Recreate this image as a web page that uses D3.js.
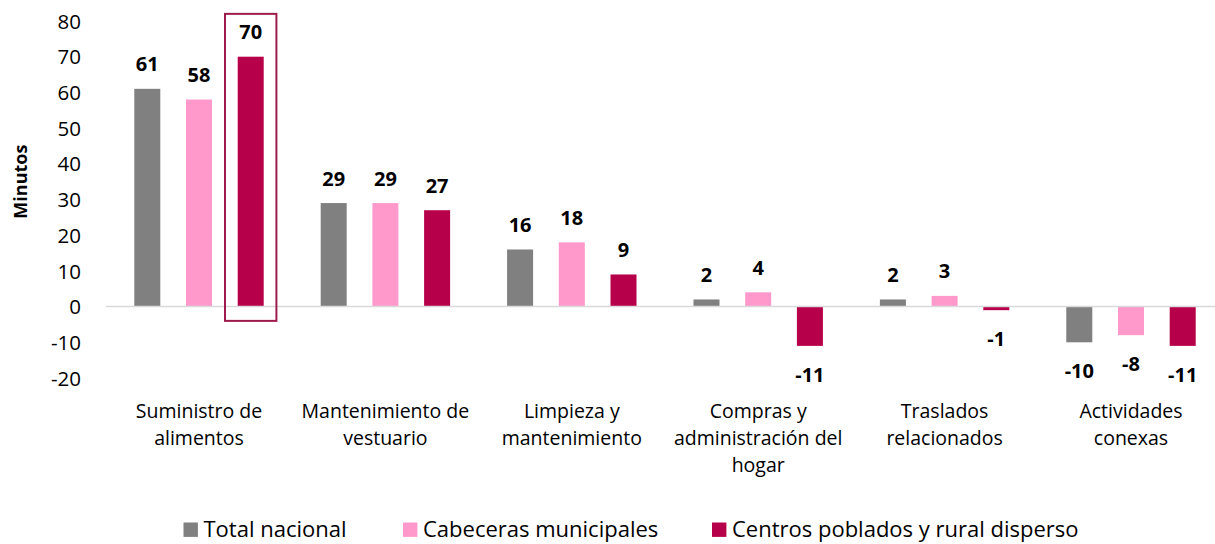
<!DOCTYPE html>
<html>
<head>
<meta charset="utf-8">
<script src="https://cdn.jsdelivr.net/npm/d3@7"></script>
<style>
  html, body { margin: 0; padding: 0; background: #ffffff; }
  svg { display: block; }
  text { font-family: "Open Sans", "Noto Sans", sans-serif; fill: #000; }
</style>
</head>
<body>
<svg id="chart" width="1215" height="544"></svg>
<script>
const categories = [
  ["Suministro de", "alimentos"],
  ["Mantenimiento de", "vestuario"],
  ["Limpieza y", "mantenimiento"],
  ["Compras y", "administración del", "hogar"],
  ["Traslados", "relacionados"],
  ["Actividades", "conexas"]
];
const seriesNames = ["Total nacional", "Cabeceras municipales", "Centros poblados y rural disperso"];
const totalNacional = [61, 29, 16, 2, 2, -10];
const cabeceras = [58, 29, 18, 4, 3, -8];
const centrosPoblados = [70, 27, 9, -11, -1, -11];
const yTicks = [-20, -10, 0, 10, 20, 30, 40, 50, 60, 70, 80];
const colors = ["#808080", "#FF99CC", "#B7004A"];
const highlight = { category: 0, series: 2 };

const seriesValues = [totalNacional, cabeceras, centrosPoblados];
const catKeys = categories.map(c => c.join(" "));
const fmt = v => String(v);

const svg = d3.select("#chart");

const x0 = d3.scaleBand().domain(catKeys).range([105.8, 1224.2]).paddingInner(0).paddingOuter(0);
const x1 = d3.scaleBand().domain(seriesNames).range([0, x0.bandwidth()]).paddingInner(0.497).paddingOuter(0.551);
const y = d3.scaleLinear().domain([-20, 80]).range([378, 21]);

// y axis labels
const yAxis = d3.axisLeft(y).tickValues(yTicks).tickSize(0).tickPadding(0).tickFormat(fmt);
const yg = svg.append("g").attr("transform", "translate(81,0)").call(yAxis);
yg.select(".domain").remove();
yg.selectAll("text").style("font-size", "20.5px").style("font-family", '"Open Sans", sans-serif').attr("fill", "#000").attr("dy", "0.35em");

// axis title
svg.append("text")
  .attr("transform", `translate(27,${y(35)}) rotate(-90)`)
  .attr("text-anchor", "middle")
  .style("font-size", "18px")
  .style("font-weight", "bold")
  .text("Minutos");

// bars
const groups = svg.append("g").selectAll("g").data(catKeys).join("g")
  .attr("transform", d => `translate(${x0(d)},0)`);

groups.selectAll("rect").data((d, i) => seriesNames.map((s, j) => ({ s, j, v: seriesValues[j][i] })))
  .join("rect")
  .attr("x", d => x1(d.s))
  .attr("width", x1.bandwidth())
  .attr("y", d => y(Math.max(0, d.v)))
  .attr("height", d => Math.abs(y(d.v) - y(0)))
  .attr("fill", d => colors[d.j]);

// zero line
svg.append("line")
  .attr("x1", x0.range()[0]).attr("x2", 1215)
  .attr("y1", y(0)).attr("y2", y(0))
  .attr("stroke", "#d9d9d9").attr("stroke-width", 1.5);

// value labels
groups.selectAll("text.val").data((d, i) => seriesNames.map((s, j) => ({ s, j, v: seriesValues[j][i] })))
  .join("text")
  .attr("class", "val")
  .attr("x", d => x1(d.s) + x1.bandwidth() / 2)
  .attr("y", d => d.v >= 0 ? y(d.v) - 17.5 : y(d.v) + 36)
  .attr("text-anchor", "middle")
  .style("font-size", "20px")
  .style("font-weight", "bold")
  .text(d => fmt(d.v));

// highlight box
const hx = x0(catKeys[highlight.category]) + x1(seriesNames[highlight.series]);
svg.append("rect")
  .attr("x", hx - 12.7)
  .attr("y", y(82))
  .attr("width", x1.bandwidth() + 25.4)
  .attr("height", y(-4) - y(82))
  .attr("fill", "none")
  .attr("stroke", "#9E1C4D")
  .attr("stroke-width", 2);

// category labels
svg.append("g").selectAll("text").data(categories).join("text")
  .attr("x", (d, i) => x0(catKeys[i]) + x0.bandwidth() / 2)
  .attr("y", 418)
  .attr("text-anchor", "middle")
  .style("font-size", "19.5px")
  .each(function (lines) {
    d3.select(this).selectAll("tspan").data(lines).join("tspan")
      .attr("x", d3.select(this).attr("x"))
      .attr("dy", (d, k) => k === 0 ? 0 : 27)
      .text(d => d);
  });

// legend
const legendX = [183.5, 403, 712];
const lg = svg.append("g").selectAll("g").data(seriesNames).join("g")
  .attr("transform", (d, i) => `translate(${legendX[i]},0)`);
lg.append("rect").attr("x", 0).attr("y", 522.5).attr("width", 14.4).attr("height", 14.4)
  .attr("fill", (d, i) => colors[i]);
lg.append("text").attr("x", 20).attr("y", 537)
  .style("font-size", "22px")
  .text(d => d);
</script>
</body>
</html>
